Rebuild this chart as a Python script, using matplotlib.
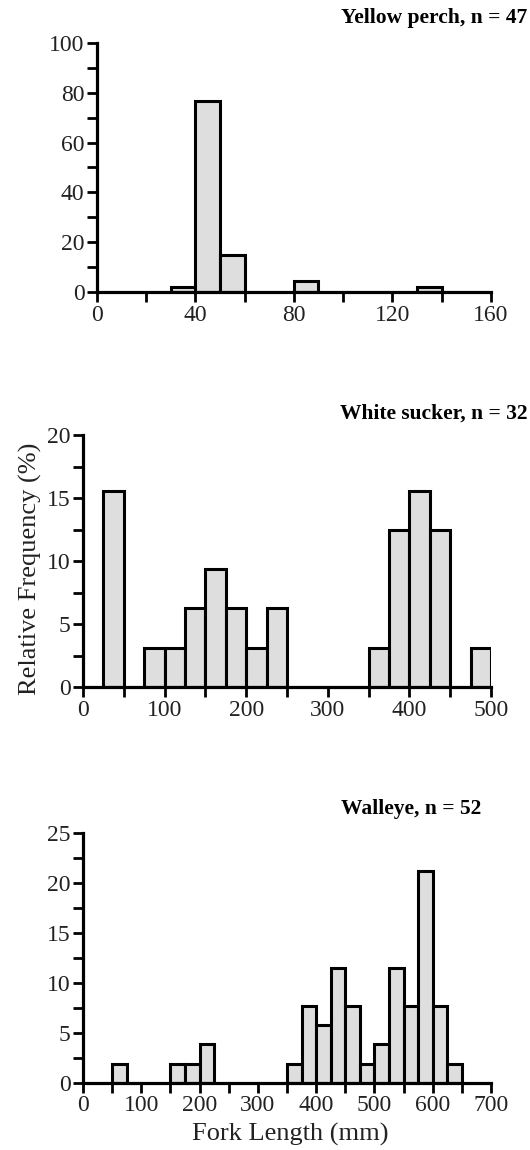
import matplotlib
matplotlib.use("Agg")
import matplotlib.pyplot as plt
import numpy as np
from matplotlib.ticker import MultipleLocator

plt.rcParams['font.family'] = ['Liberation Serif', 'DejaVu Serif']

# Yellow perch: 10 mm bins, relative frequency (%)
perch_left = [30, 40, 50, 80, 130]
perch_freq = [2.13, 76.6, 14.9, 4.26, 2.13]

# White sucker: 25 mm bins
sucker_left = [25, 75, 100, 125, 150, 175, 200, 225, 350, 375, 400, 425, 475]
sucker_freq = [15.6, 3.13, 3.13, 6.25, 9.38, 6.25, 3.13, 6.25, 3.13, 12.5, 15.6, 12.5, 3.13]

# Walleye: 25 mm bins
walleye_left = [50, 150, 175, 200, 350, 375, 400, 425, 450, 475, 500, 525, 550, 575, 600, 625]
walleye_freq = [1.92, 1.92, 1.92, 3.85, 1.92, 7.69, 5.77, 11.5, 7.69, 1.92, 3.85, 11.5, 7.69, 21.2, 7.69, 1.92]

panels = [
    dict(left=perch_left, freq=perch_freq, width=10, xlim=(0, 160), xmaj=40, xmin=20,
         ylim=(0, 100), ymaj=20, ymin=10, title="Yellow perch, n = 47",
         rect=[0.183, 0.746, 0.743, 0.2168], tx=527, ty=18),
    dict(left=sucker_left, freq=sucker_freq, width=25, xlim=(0, 500), xmaj=100, xmin=50,
         ylim=(0, 20), ymaj=5, ymin=2.5, title="White sucker, n = 32",
         rect=[0.1566, 0.4026, 0.770, 0.219], tx=527, ty=414),
    dict(left=walleye_left, freq=walleye_freq, width=25, xlim=(0, 700), xmaj=100, xmin=50,
         ylim=(0, 25), ymaj=5, ymin=2.5, title="Walleye, n = 52",
         rect=[0.1566, 0.0583, 0.770, 0.2177], tx=481, ty=809),
]

W, H = 530, 1150
fig = plt.figure(figsize=(W / 100, H / 100), dpi=100)

for p in panels:
    ax = fig.add_axes(p["rect"])
    ax.bar(p["left"], p["freq"], width=p["width"], align="edge",
           color="#dedede", edgecolor="black", linewidth=2.2, zorder=2)
    ax.set_xlim(*p["xlim"])
    ax.set_ylim(*p["ylim"])
    ax.xaxis.set_major_locator(MultipleLocator(p["xmaj"]))
    ax.xaxis.set_minor_locator(MultipleLocator(p["xmin"]))
    ax.yaxis.set_major_locator(MultipleLocator(p["ymaj"]))
    ax.yaxis.set_minor_locator(MultipleLocator(p["ymin"]))
    for s in ["top", "right"]:
        ax.spines[s].set_visible(False)
    for s in ["left", "bottom"]:
        ax.spines[s].set_linewidth(2.3)
        ax.spines[s].set_zorder(3)
    ax.tick_params(which="both", direction="out", length=7.5, width=2.0,
                   labelsize=17, colors="black", labelcolor="#222222", pad=1.5)
    fig.text(p["tx"] / W, 1 - p["ty"] / H, p["title"], ha="right", va="center",
             fontsize=15.5, fontweight="bold")

fig.text(30 / W, 1 - 569 / H, "Relative Frequency (%)", rotation=90,
         ha="center", va="center", fontsize=19, color="#222222")
fig.text(290 / W, 1 - 1134 / H, "Fork Length (mm)", ha="center", va="center",
         fontsize=19, color="#222222")

fig.savefig("out.png", dpi=100, facecolor="white")
